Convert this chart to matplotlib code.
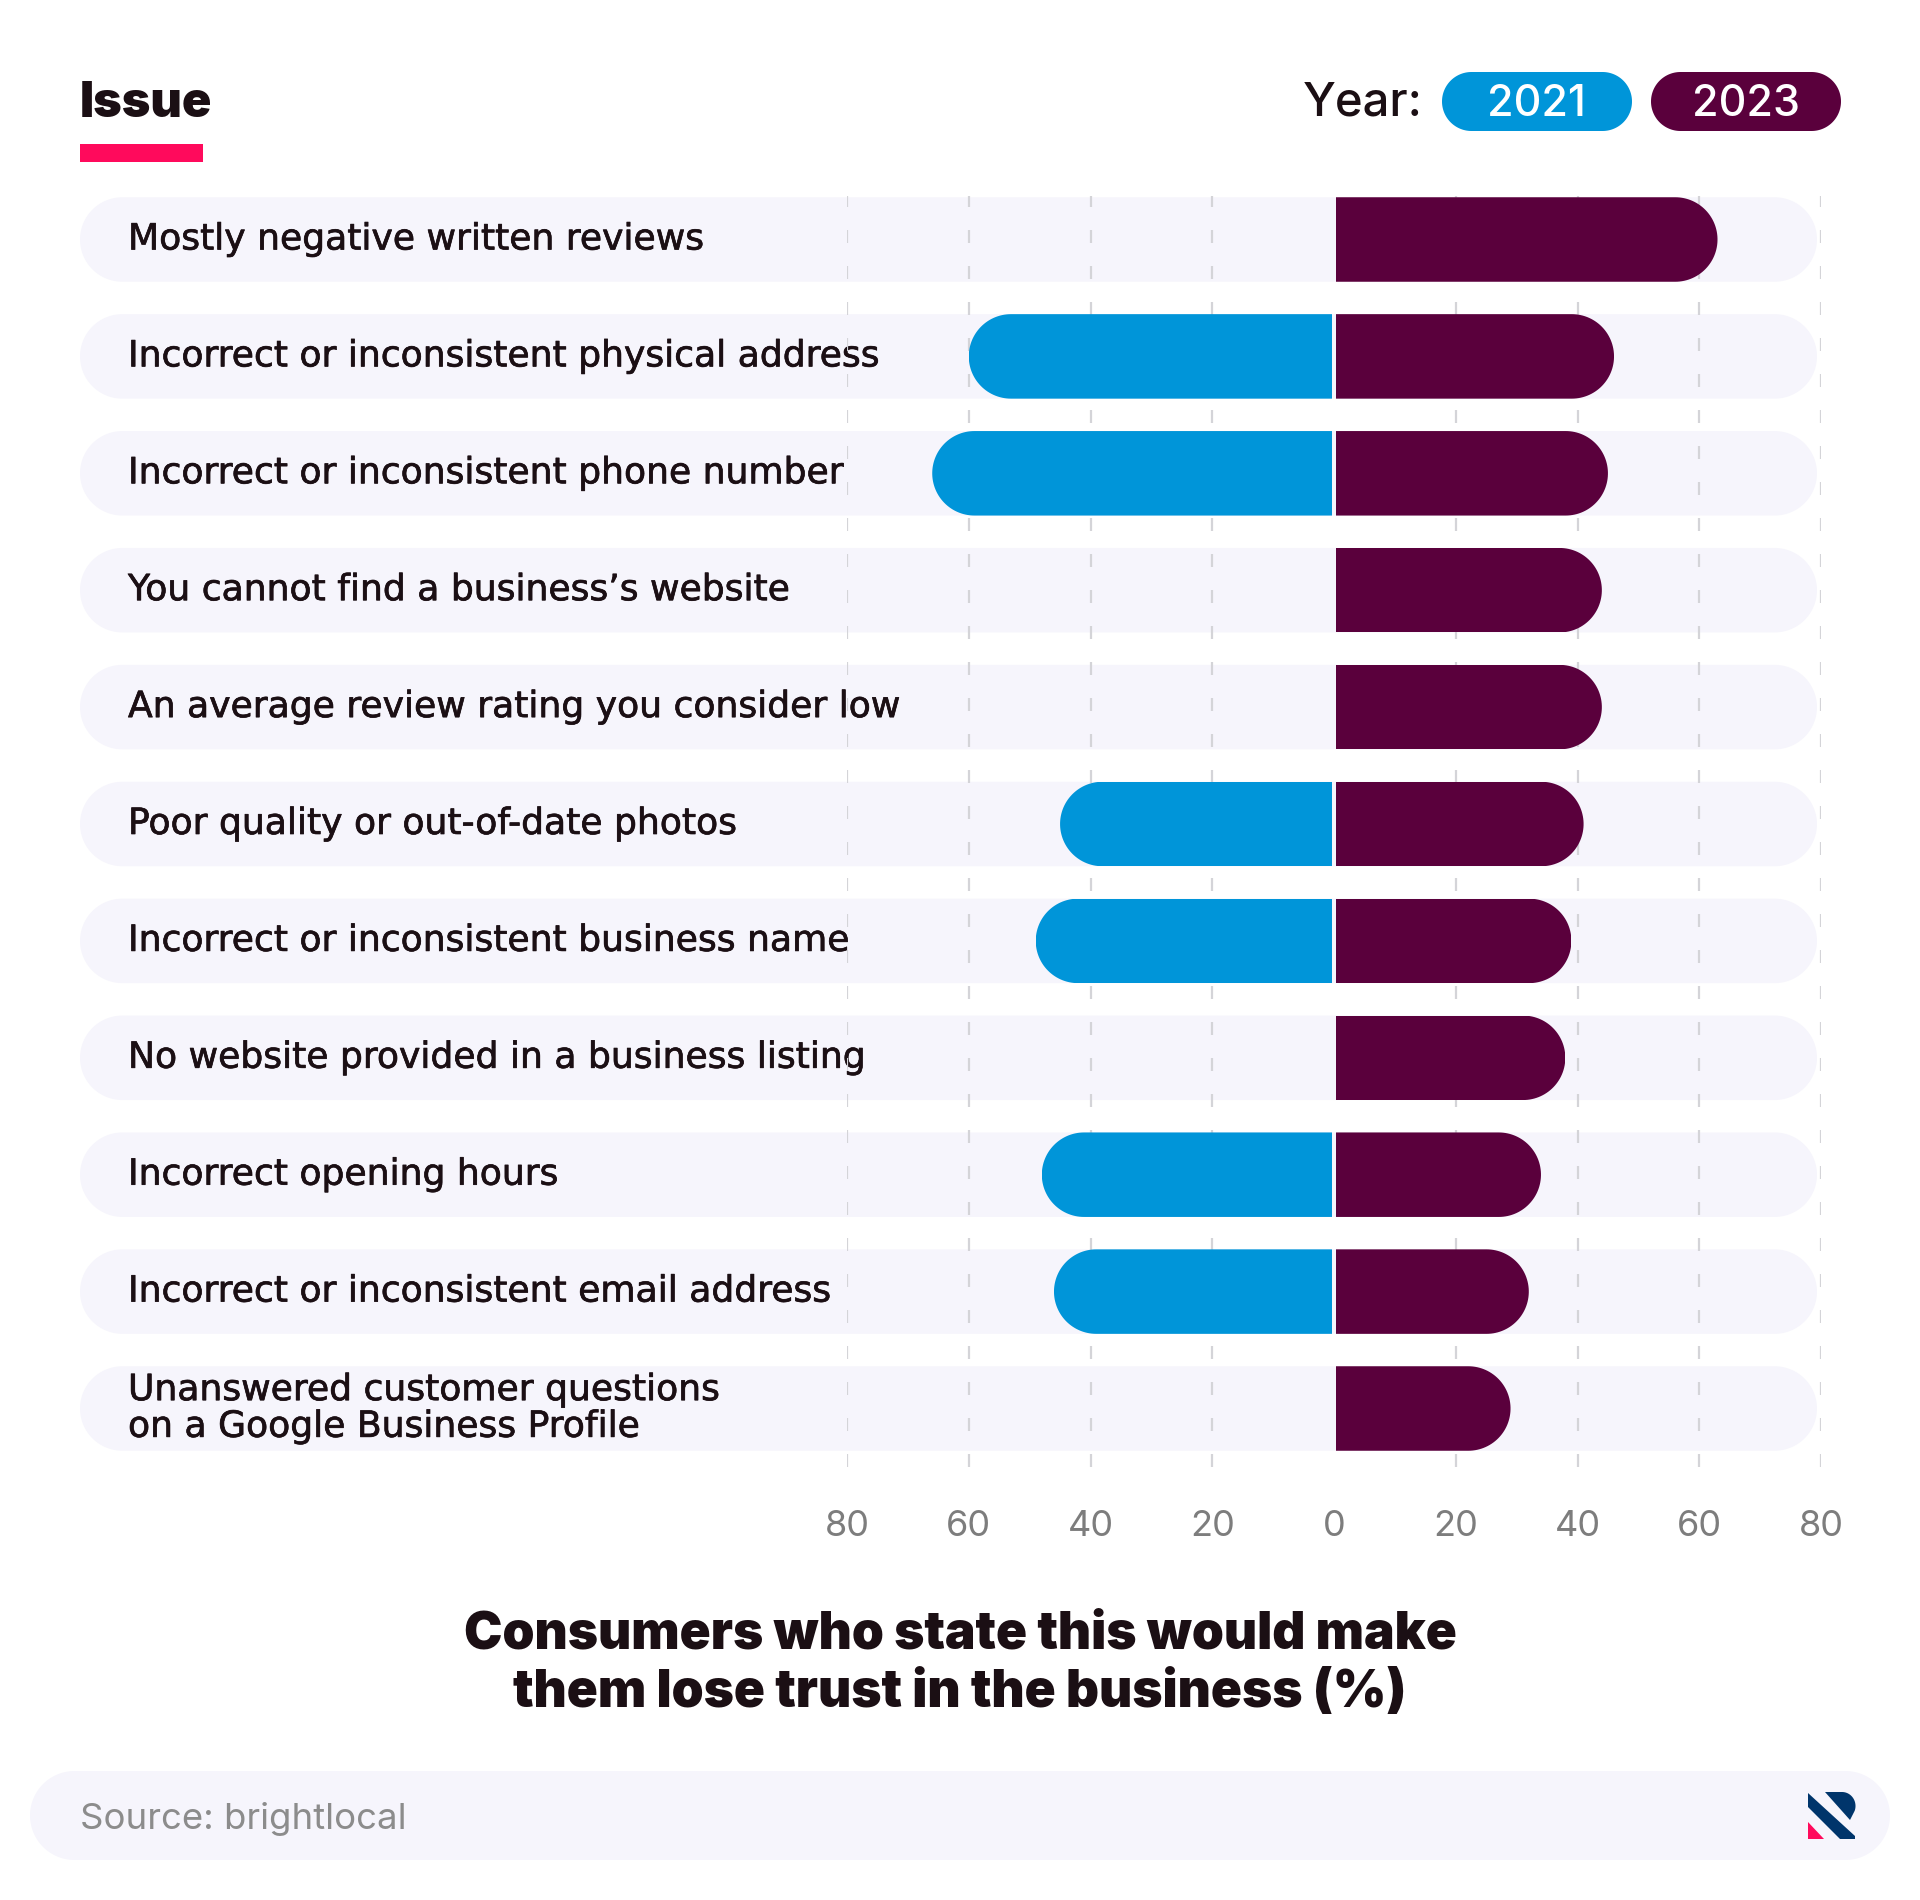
import matplotlib
matplotlib.use("Agg")
import matplotlib.pyplot as plt
import matplotlib.patheffects as pe
import numpy as np
from matplotlib.patches import Rectangle, Polygon
from matplotlib.path import Path

issues = [
    "Mostly negative written reviews",
    "Incorrect or inconsistent physical address",
    "Incorrect or inconsistent phone number",
    "You cannot find a business\u2019s website",
    "An average review rating you consider low",
    "Poor quality or out-of-date photos",
    "Incorrect or inconsistent business name",
    "No website provided in a business listing",
    "Incorrect opening hours",
    "Incorrect or inconsistent email address",
    "Unanswered customer questions\non a Google Business Profile",
]
values_2021 = [np.nan, 60, 66, np.nan, np.nan, 45, 49, np.nan, 48, 46, np.nan]
values_2023 = [63, 46, 45, 44, 44, 41, 39, 38, 34, 32, 29]
ticks = [-80, -60, -40, -20, 0, 20, 40, 60, 80]

BLUE = "#0095d9"
PLUM = "#5a003c"
BAND = "#f6f5fc"
INK = "#1b0f14"
PINK = "#ff0a5c"
NAVY = "#00356b"

W, H = 1920, 1900
FONT = ["Inter", "DejaVu Sans"]
ROW0, PITCH, BAR_H = 239.5, 116.9, 84.5


def pill(ax, x0, y0, x1, y1, color):
    # stadium shape in pixel coordinates
    r = (y1 - y0) / 2
    cy = (y0 + y1) / 2
    t = np.linspace(-np.pi / 2, np.pi / 2, 60)
    pts = list(zip(x1 - r + r * np.cos(t), cy + r * np.sin(t)))
    pts += list(zip(x0 + r - r * np.cos(t), cy - r * np.sin(t)))
    ax.add_patch(Polygon(pts, closed=True, fc=color, ec="none"))


def round_end(x0, x1, y, h, rx):
    # outline of a bar whose far end is a half ellipse
    d = np.sign(x1 - x0)
    t = np.linspace(-np.pi / 2, np.pi / 2, 60)
    xs = x1 - d * rx + d * rx * np.cos(t)
    ys = y + h / 2 * np.sin(t)
    pts = [(x0, y - h / 2)] + list(zip(xs, ys)) + [(x0, y + h / 2), (x0, y - h / 2)]
    return Path(pts, closed=True)


fig = plt.figure(figsize=(W / 100, H / 100), dpi=100, facecolor="white")

# page layer in pixel coordinates
bg = fig.add_axes([0, 0, 1, 1], zorder=0)
bg.set_xlim(0, W)
bg.set_ylim(H, 0)
bg.axis("off")

# chart layer
left, right, top, bottom = 847, 1821, 196, 1467
ax = fig.add_axes([left / W, 1 - bottom / H, (right - left) / W, (bottom - top) / H], zorder=1)
ax.patch.set_alpha(0)
ax.set_xlim(-80, 80)
ax.set_ylim((bottom - ROW0) / PITCH, (top - ROW0) / PITCH)
for s in ax.spines.values():
    s.set_visible(False)
ax.set_xticks(ticks)
ax.set_xticklabels([str(abs(t)) for t in ticks], family=FONT, fontsize=26, color="#7d7d7d")
ax.tick_params(axis="x", length=0, pad=31)
ax.set_yticks([])
for t in ticks:
    if t != 0:
        ax.axvline(t, color="#d4d4d8", lw=1.6, ls=(0, (5.85, 10.35)), zorder=1)

# rows
y = np.arange(len(issues))
h = BAR_H / PITCH
rx = (BAR_H / 2) / ((right - left) / 160.0)
for i, label in enumerate(issues):
    cy = ROW0 + i * PITCH
    pill(bg, 80, cy - BAR_H / 2, 1817, cy + BAR_H / 2, BAND)
    bg.text(128, cy, label, family="DejaVu Sans", fontsize=26, color=INK, va="center", ha="left",
            linespacing=1.1, path_effects=[pe.withStroke(linewidth=0.5, foreground=INK)])

mask = ~np.isnan(values_2021)
bars_a = ax.barh(y[mask], -np.array(values_2021)[mask] + 0.33, left=-0.33, height=h, color=BLUE, zorder=3)
bars_b = ax.barh(y, np.array(values_2023) - 0.25, left=0.25, height=h, color=PLUM, zorder=3)
for b, yy, v in zip(bars_a, y[mask], np.array(values_2021)[mask]):
    b.set_clip_path(round_end(-0.33, -v, yy, h, rx), ax.transData)
for b, yy, v in zip(bars_b, y, values_2023):
    b.set_clip_path(round_end(0.25, v, yy, h, rx), ax.transData)

# header
bg.text(80, 104, "Issue", family=FONT, fontsize=35, fontweight="black", color=INK, va="center")
bg.add_patch(Rectangle((80, 144), 122.5, 18, fc=PINK, ec="none"))
bg.text(1423, 103, "Year:", family=FONT, fontsize=34, fontweight="medium", color=INK, va="center", ha="right")
pill(bg, 1442, 72, 1632, 131, BLUE)
pill(bg, 1651, 72, 1841, 131, PLUM)
bg.text(1536, 104, "2021", family=FONT, fontsize=31, fontweight="medium", color="white", va="center", ha="center")
bg.text(1746, 104, "2023", family=FONT, fontsize=31, fontweight="medium", color="white", va="center", ha="center")

# axis title
bg.text(960, 1635, "Consumers who state this would make", family=FONT, fontsize=37,
        fontweight="black", color=INK, ha="center", va="center")
bg.text(960, 1694, "them lose trust in the business (%)", family=FONT, fontsize=37,
        fontweight="black", color=INK, ha="center", va="center")

# footer
pill(bg, 30, 1771, 1890, 1860, BAND)
bg.text(80, 1819, "Source: brightlocal", family=FONT, fontsize=26.3, color="#8c8c8c", va="center")
bg.add_patch(Polygon([(1808, 1793), (1808, 1807), (1840, 1839), (1855, 1839), (1855, 1836)], fc=NAVY, ec="none"))
t = np.linspace(-np.pi / 2, 0.35, 30)
arc = [(1842 + 13.5 * np.cos(a), 1806 + 14 * np.sin(a)) for a in t]
bg.add_patch(Polygon([(1825, 1792)] + arc + [(1850, 1820)], fc=NAVY, ec="none"))
bg.add_patch(Polygon([(1808, 1822), (1824, 1839), (1808, 1839)], fc=PINK, ec="none"))

fig.savefig("out.png", dpi=100, facecolor="white")
